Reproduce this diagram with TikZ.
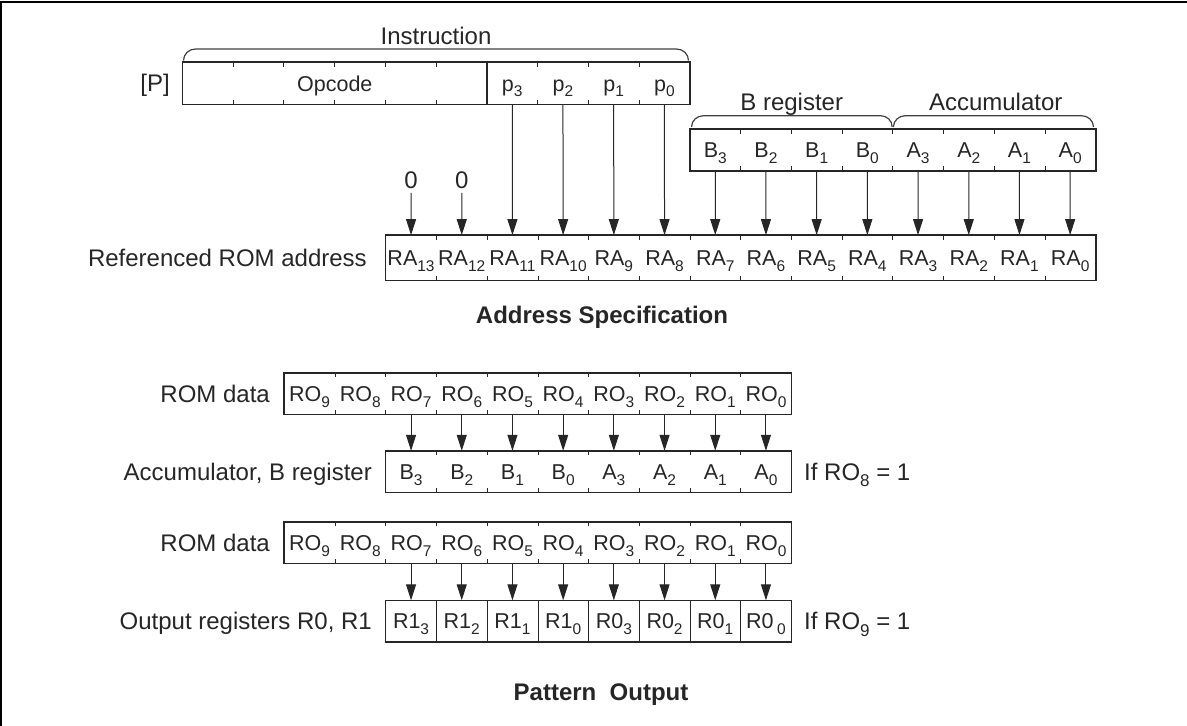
\documentclass[tikz,border=0pt]{standalone}
\usepackage{fontspec}
\setmainfont{Liberation Sans}
\usetikzlibrary{arrows.meta}
\newcommand{\lowidx}[1]{\raisebox{-5.8pt}{\fontsize{15.5}{15.5}\selectfont #1}}
\newcommand{\biglowidx}[1]{\raisebox{-6.5pt}{\fontsize{17}{17}\selectfont #1}}
\newcommand{\cellfont}{\fontsize{21.5}{23}\selectfont}
\newcommand{\labfont}{\fontsize{24}{26}\selectfont}
\begin{document}
\begin{tikzpicture}[x=1pt,y=-1pt,
  cell/.style={inner sep=0pt, minimum width=50.7pt, text height=15.4pt, text depth=0pt, font=\cellfont, text=black!85},
  lab/.style={inner sep=0pt, text height=17.2pt, text depth=0pt, font=\labfont, text=black!85},
  boxline/.style={line width=1.6pt, black!85},
  tickline/.style={line width=1pt, black!85},
  arr/.style={line width=1pt, black!85, -{Triangle[length=16pt,width=10pt]}},
  bracel/.style={line width=1.2pt, black!75},
]
\useasboundingbox (0,0) rectangle (1187,726);
% frame (top and left edges only)
\draw[line width=1.6pt] (1,726) -- (1,2) -- (1187,2);

% ---------- Instruction register ----------
\node[cell, minimum width=304.2pt, minimum height=42pt] (opc) at (334.8,83.3) {Opcode};
\foreach \i [count=\k from 0] in {3,2,1,0}
  \node[cell, minimum height=42pt] (p\i) at ({182.7+(6.5+\k)*50.7},83.3) {p\lowidx{\i}};
\draw[boxline] (opc.north west) rectangle (p0.south east);
\draw[boxline] (opc.north east) -- (opc.south east);
\foreach \k in {1,...,5} {
  \draw[tickline] ([xshift=\k*50.7pt]opc.north west) -- ++(0,4.5);
  \draw[tickline] ([xshift=\k*50.7pt]opc.south west) -- ++(0,-4.5);
}
\foreach \i in {3,2,1} {
  \draw[tickline] (p\i.north east) -- ++(0,4.5);
  \draw[tickline] (p\i.south east) -- ++(0,-4.5);
}
\node[lab] (plab) at (155,83.3) {[P]};
\draw[bracel] (183.5,60.5) to[out=90,in=180] (195.5,49) -- (676.5,49) to[out=0,in=90] (688.5,60.5);
\node[lab] (instr) at (436,36) {Instruction};

% ---------- B register / Accumulator ----------
\foreach \i [count=\k from 0] in {3,2,1,0}
  \node[cell, minimum height=41.4pt] (b\i) at ({689.9+(\k+0.5)*50.7},150) {B\lowidx{\i}};
\foreach \i [count=\k from 4] in {3,2,1,0}
  \node[cell, minimum height=41.4pt] (a\i) at ({689.9+(\k+0.5)*50.7},150) {A\lowidx{\i}};
\draw[boxline] (b3.north west) rectangle (a0.south east);
\foreach \n in {b3,b2,b1,b0,a3,a2,a1} {
  \draw[tickline] (\n.north east) -- ++(0,4.5);
  \draw[tickline] (\n.south east) -- ++(0,-4.5);
}
\draw[bracel] (691.5,127) to[out=90,in=180] (703.5,115.7) -- (880.5,115.7) to[out=0,in=90] (892.2,127);
\draw[bracel] (893.4,127) to[out=90,in=180] (905.4,115.7) -- (1081.5,115.7) to[out=0,in=90] (1093.5,127);
\node[lab] (breg) at (791.7,101.7) {B register};
\node[lab] (accu) at (995.7,101.7) {Accumulator};

% ---------- Referenced ROM address ----------
\foreach \i [count=\k from 0] in {13,12,...,0}
  \node[cell, minimum height=45pt] (ra\i) at ({385.7+(\k+0.5)*50.7},257.8) {RA\lowidx{\i}};
\draw[boxline] (ra13.north west) rectangle (ra0.south east);
\foreach \i in {13,12,...,1} {
  \draw[tickline] (ra\i.north east) -- ++(0,4.5);
  \draw[tickline] (ra\i.south east) -- ++(0,-4.5);
}
\node[lab, anchor=east] (ralab) at (367,257.8) {Referenced ROM address};
\node[lab] (z13) at (411.05,180) {0};
\node[lab] (z12) at (461.75,180) {0};
\draw[arr, shorten <=4pt] (z13.south) -- (ra13.north);
\draw[arr, shorten <=4pt] (z12.south) -- (ra12.north);
\draw[arr] (p3.south) -- (ra11.north);
\draw[arr] (p2.south) -- (ra10.north);
\draw[arr] (p1.south) -- (ra9.north);
\draw[arr] (p0.south) -- (ra8.north);
\draw[arr] (b3.south) -- (ra7.north);
\draw[arr] (b2.south) -- (ra6.north);
\draw[arr] (b1.south) -- (ra5.north);
\draw[arr] (b0.south) -- (ra4.north);
\draw[arr] (a3.south) -- (ra3.north);
\draw[arr] (a2.south) -- (ra2.north);
\draw[arr] (a1.south) -- (ra1.north);
\draw[arr] (a0.south) -- (ra0.north);
\node[lab, font=\labfont\bfseries] (addrspec) at (602,315) {Address Specification};

% ---------- ROM data 1 -> Accumulator, B register ----------
\foreach \i [count=\k from 0] in {9,8,...,0}
  \node[cell, minimum height=41.4pt] (ma\i) at ({284.3+(\k+0.5)*50.7},393.7) {RO\lowidx{\i}};
\draw[boxline] (ma9.north west) rectangle (ma0.south east);
\foreach \i in {9,8,...,1} {
  \draw[tickline] (ma\i.north east) -- ++(0,4.5);
  \draw[tickline] (ma\i.south east) -- ++(0,-4.5);
}
\node[lab, anchor=east] (romlab1) at (270,393.7) {ROM data};

\foreach \i [count=\k from 0] in {3,2,1,0}
  \node[cell, minimum height=41.4pt] (lb\i) at ({385.7+(\k+0.5)*50.7},471.7) {B\lowidx{\i}};
\foreach \i [count=\k from 4] in {3,2,1,0}
  \node[cell, minimum height=41.4pt] (la\i) at ({385.7+(\k+0.5)*50.7},471.7) {A\lowidx{\i}};
\draw[boxline] (lb3.north west) rectangle (la0.south east);
\foreach \n in {lb3,lb2,lb1,lb0,la3,la2,la1} {
  \draw[tickline] (\n.north east) -- ++(0,4.5);
  \draw[tickline] (\n.south east) -- ++(0,-4.5);
}
\node[lab, anchor=east] (acclab) at (372,471.7) {Accumulator, B register};
\node[lab, anchor=west] (if8) at (804,471.7) {If RO\biglowidx{8} = 1};
\draw[arr] (ma7.south) -- (lb3.north);
\draw[arr] (ma6.south) -- (lb2.north);
\draw[arr] (ma5.south) -- (lb1.north);
\draw[arr] (ma4.south) -- (lb0.north);
\draw[arr] (ma3.south) -- (la3.north);
\draw[arr] (ma2.south) -- (la2.north);
\draw[arr] (ma1.south) -- (la1.north);
\draw[arr] (ma0.south) -- (la0.north);

% ---------- ROM data 2 -> Output registers ----------
\foreach \i [count=\k from 0] in {9,8,...,0}
  \node[cell, minimum height=41.4pt] (mb\i) at ({284.3+(\k+0.5)*50.7},542.7) {RO\lowidx{\i}};
\draw[boxline] (mb9.north west) rectangle (mb0.south east);
\foreach \i in {9,8,...,1} {
  \draw[tickline] (mb\i.north east) -- ++(0,4.5);
  \draw[tickline] (mb\i.south east) -- ++(0,-4.5);
}
\node[lab, anchor=east] (romlab2) at (270,542.7) {ROM data};

\foreach \i [count=\k from 0] in {3,2,1,0}
  \node[cell, minimum height=41.4pt] (oa\i) at ({385.7+(\k+0.5)*50.7},621.2) {R1\lowidx{\i}};
\foreach \i [count=\k from 4] in {3,2,1}
  \node[cell, minimum height=41.4pt] (ob\i) at ({385.7+(\k+0.5)*50.7},621.2) {R0\lowidx{\i}};
\node[cell, minimum height=41.4pt] (ob0) at ({385.7+7.5*50.7},621.2) {R0\,\lowidx{0}};
\draw[boxline] (oa3.north west) rectangle (ob0.south east);
\foreach \n in {oa3,oa2,oa1,oa0,ob3,ob2,ob1}
  \draw[line width=1pt, black!85] (\n.north east) -- (\n.south east);
\node[lab, anchor=east] (outlab) at (372,621.2) {Output registers R0, R1};
\node[lab, anchor=west] (if9) at (804,621.2) {If RO\biglowidx{9} = 1};
\draw[arr] (mb7.south) -- (oa3.north);
\draw[arr] (mb6.south) -- (oa2.north);
\draw[arr] (mb5.south) -- (oa1.north);
\draw[arr] (mb4.south) -- (oa0.north);
\draw[arr] (mb3.south) -- (ob3.north);
\draw[arr] (mb2.south) -- (ob2.north);
\draw[arr] (mb1.south) -- (ob1.north);
\draw[arr] (mb0.south) -- (ob0.north);
\node[lab, font=\labfont\bfseries] (pout) at (601,692) {Pattern\ \ Output};
\end{tikzpicture}
\end{document}
